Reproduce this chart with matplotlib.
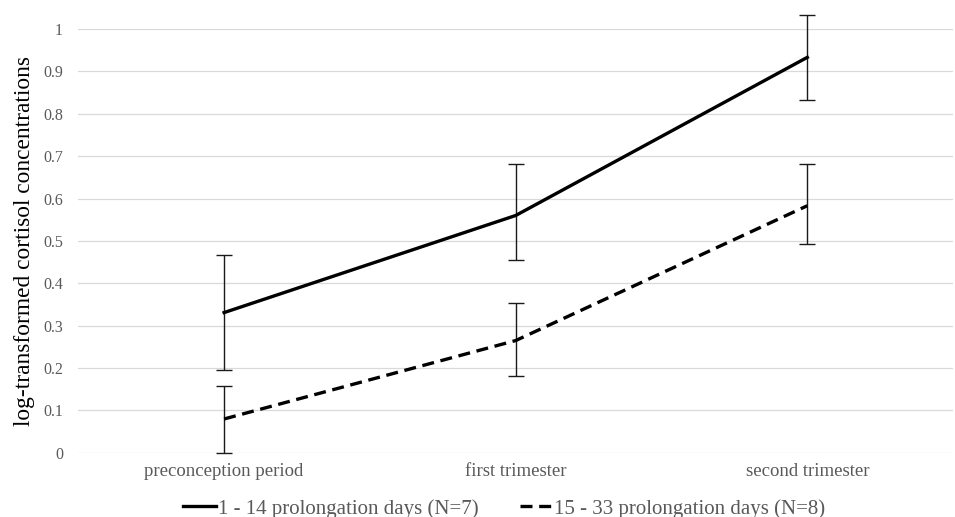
import numpy as np
import matplotlib
matplotlib.use("Agg")
import matplotlib.pyplot as plt

plt.rcParams['font.family'] = ['Liberation Serif', 'DejaVu Serif']

# data
periods = ["preconception period", "first trimester", "second trimester"]
short_mean = [0.331, 0.560, 0.933]
short_low = [0.196, 0.455, 0.833]
short_high = [0.467, 0.682, 1.034]
long_mean = [0.080, 0.265, 0.583]
long_low = [0.000, 0.182, 0.493]
long_high = [0.157, 0.353, 0.682]
yticks = [0, 0.1, 0.2, 0.3, 0.4, 0.5, 0.6, 0.7, 0.8, 0.9, 1]

fig = plt.figure(figsize=(9.55, 5.17), dpi=100)
ax = fig.add_axes([0.082, 0.124, 0.916, 0.82])

x = np.arange(len(periods))
grey = "#595959"

def draw(mean, low, high, ls, label):
    mean = np.array(mean)
    err = [mean - np.array(low), np.array(high) - mean]
    ax.errorbar(x, mean, yerr=err, fmt="none", ecolor="#1a1a1a", elinewidth=1.0,
                capsize=5.5, capthick=1.0, clip_on=False, zorder=3)
    line, = ax.plot(x, mean, color="black", lw=2.4, linestyle=ls, label=label,
                    clip_on=False, zorder=4)
    return line

draw(short_mean, short_low, short_high, "-", "1 - 14 prolongation days (N=7)")
l2 = draw(long_mean, long_low, long_high, "--", "15 - 33 prolongation days (N=8)")
l2.set_dashes((3.6, 2.0))

ax.set_xlim(-0.5, 2.5)
ax.set_ylim(0, 1)
ax.set_yticks(yticks)
ax.set_yticklabels([f"{v:g}" for v in yticks])
ax.set_xticks(x)
ax.set_xticklabels(periods)
ax.yaxis.grid(True, color="#d9d9d9", lw=0.9)
ax.set_axisbelow(True)
for s in ax.spines.values():
    s.set_visible(False)
ax.tick_params(axis="both", length=0, colors=grey)
ax.tick_params(axis="y", pad=11, labelsize=11.5)
ax.tick_params(axis="x", pad=7, labelsize=13.5)
ax.set_ylabel("log-transformed cortisol concentrations", fontsize=16.8, color="black", labelpad=6)

leg = fig.legend(loc="center", bbox_to_anchor=(0.528, 0.016), ncol=2, frameon=False,
                 fontsize=15, handlelength=1.6, handletextpad=0.05, columnspacing=2.0)
for t in leg.get_texts():
    t.set_color(grey)

fig.savefig("out.png", dpi=100)
